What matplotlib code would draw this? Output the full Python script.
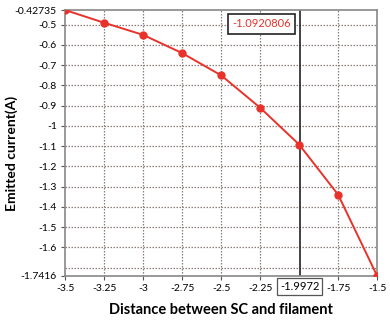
import numpy as np
import matplotlib.pyplot as plt

# data
distance = [-3.5, -3.25, -3.0, -2.75, -2.5, -2.25, -2.0, -1.75, -1.5]
current = [-0.42735, -0.49, -0.55, -0.64, -0.75, -0.91, -1.0920806, -1.34, -1.7416]

x_ticks = [-3.5, -3.25, -3.0, -2.75, -2.5, -2.25, -1.75, -1.5]
x_labels = ['-3.5', '-3.25', '-3', '-2.75', '-2.5', '-2.25', '-1.75', '-1.5']
y_ticks = [-0.42735, -0.5, -0.6, -0.7, -0.8, -0.9, -1.0, -1.1, -1.2, -1.3, -1.4, -1.5, -1.6, -1.7416]
y_labels = ['-0.42735', '-0.5', '-0.6', '-0.7', '-0.8', '-0.9', '-1', '-1.1', '-1.2',
            '-1.3', '-1.4', '-1.5', '-1.6', '-1.7416']
y_grid = [-0.5, -0.6, -0.7, -0.8, -0.9, -1.0, -1.1, -1.2, -1.3, -1.4, -1.5, -1.6, -1.7]
cursor_x = -1.9972
cursor_y = -1.0920806

plt.rcParams['font.family'] = ['Lato', 'DejaVu Sans']

fig = plt.figure(figsize=(3.9, 3.25), dpi=100)
ax = fig.add_axes([0.167, 0.151, 0.8, 0.818])

red = '#e8322a'
grid_c = '#8a7f78'

for g in x_ticks[1:-1]:
    ax.axvline(g, color=grid_c, lw=0.9, ls=(0, (1.2, 1.2)), zorder=1)
for g in y_grid:
    ax.axhline(g, color=grid_c, lw=0.9, ls=(0, (1.2, 1.2)), zorder=1)

ax.axvline(cursor_x, color='#222222', lw=1.2, zorder=2)
ax.plot(distance, current, color=red, lw=1.4, marker='o', ms=5, zorder=3)

ax.set_xlim(-3.5, -1.5)
ax.set_ylim(-1.7416, -0.42735)
ax.set_xticks(x_ticks)
ax.set_xticklabels(x_labels)
ax.set_yticks(y_ticks)
ax.set_yticklabels(y_labels)
ax.tick_params(labelsize=7.5, length=3, width=0.8, color='#555555', pad=3)

for s in ax.spines.values():
    s.set_color('#888888')
    s.set_linewidth(1.2)

ax.text(-2.24, -0.495, '-1.0920806', color=red, fontsize=8, ha='center', va='center',
        bbox=dict(boxstyle='square,pad=0.4', fc='white', ec='#222222', lw=1.2), zorder=4)
ax.text(cursor_x, -1.7416 - 0.052, '-1.9972', fontsize=8, ha='center', va='center',
        bbox=dict(boxstyle='square,pad=0.25', fc='white', ec='#555555', lw=0.9), zorder=4,
        clip_on=False)

ax.set_xlabel('Distance between SC and filament', fontsize=10.5, fontweight='bold', labelpad=7)
ax.set_ylabel('Emitted current(A)', fontsize=10, fontweight='bold')
ax.yaxis.set_label_coords(-0.152, 0.46)

fig.savefig('out.png', dpi=100)
